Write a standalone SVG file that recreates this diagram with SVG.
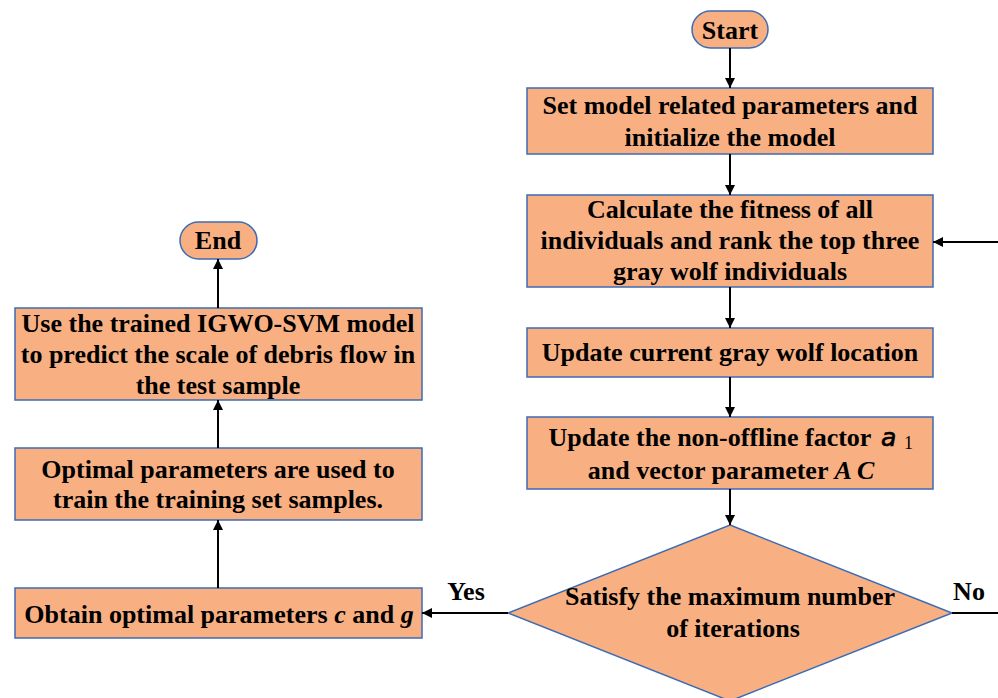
<svg xmlns="http://www.w3.org/2000/svg" width="998" height="698" viewBox="0 0 998 698">
<defs>
<marker id="ah" viewBox="0 0 10 10" refX="10" refY="5" markerWidth="10" markerHeight="10" markerUnits="userSpaceOnUse" orient="auto">
<path d="M0,0 L10,5 L0,10 z" fill="#000"/>
</marker>
</defs>
<style>
.n{fill:#F8B083;stroke:#3C6BB4;stroke-width:1.5}
.t{font-family:"Liberation Serif","Times New Roman",serif;font-weight:bold;font-size:26px;fill:#000;text-anchor:middle}
.c{stroke:#000;stroke-width:2;fill:none}
</style>
<rect width="998" height="698" fill="#fff"/>
<g id="start">
<rect class="n" x="692" y="11" width="76" height="37" rx="18.5"/>
<text class="t" x="730" y="39">Start</text>
</g>
<g id="init">
<rect class="n" x="527" y="88" width="406" height="66"/>
<text class="t" x="730" y="114">Set model related parameters and</text>
<text class="t" x="730" y="146">initialize the model</text>
</g>
<g id="fitness">
<rect class="n" x="527" y="195" width="406" height="92"/>
<text class="t" x="730" y="218">Calculate the fitness of all</text>
<text class="t" x="730" y="249">individuals and rank the top three</text>
<text class="t" x="730" y="280">gray wolf individuals</text>
</g>
<g id="update-location">
<rect class="n" x="527" y="328" width="406" height="49"/>
<text class="t" x="730" y="361">Update current gray wolf location</text>
</g>
<g id="update-factor">
<rect class="n" x="527" y="417" width="406" height="72"/>
<text class="t" x="710" y="446">Update the non-offline factor</text>
<text x="881" y="446" font-family="DejaVu Sans,sans-serif" font-style="italic" font-size="25" fill="#000" stroke="#000" stroke-width="0.7">a</text>
<text x="904" y="449" font-family="Liberation Serif,serif" font-size="18" fill="#000">1</text>
<text class="t" x="731" y="479">and vector parameter <tspan font-style="italic">A C</tspan></text>
</g>
<g id="decision">
<polygon class="n" points="730,525 952,613 730,701 508,613"/>
<text class="t" x="730" y="605">Satisfy the maximum number</text>
<text class="t" x="733" y="637">of iterations</text>
</g>
<g id="obtain">
<rect class="n" x="15" y="588" width="407" height="50"/>
<text class="t" x="219" y="623">Obtain optimal parameters <tspan font-style="italic">c</tspan> and <tspan font-style="italic">g</tspan></text>
</g>
<g id="train">
<rect class="n" x="15" y="448" width="407" height="72"/>
<text class="t" x="218" y="478">Optimal parameters are used to</text>
<text class="t" x="218" y="508">train the training set samples.</text>
</g>
<g id="predict">
<rect class="n" x="15" y="308" width="407" height="92"/>
<text class="t" x="218" y="332">Use the trained IGWO-SVM model</text>
<text class="t" x="218" y="363">to predict the scale of debris flow in</text>
<text class="t" x="218" y="394">the test sample</text>
</g>
<g id="end">
<rect class="n" x="180" y="222" width="77" height="37" rx="18.5"/>
<text class="t" x="218" y="249">End</text>
</g>
<g id="connectors">
<line class="c" x1="730" y1="48" x2="730" y2="88" marker-end="url(#ah)"/>
<line class="c" x1="730" y1="154" x2="730" y2="195" marker-end="url(#ah)"/>
<line class="c" x1="730" y1="287" x2="730" y2="328" marker-end="url(#ah)"/>
<line class="c" x1="730" y1="377" x2="730" y2="417" marker-end="url(#ah)"/>
<line class="c" x1="730" y1="489" x2="730" y2="525" marker-end="url(#ah)"/>
<line class="c" x1="952" y1="613" x2="998" y2="613"/>
<line class="c" x1="998" y1="242" x2="933" y2="242" marker-end="url(#ah)"/>
<line class="c" x1="508" y1="613" x2="422" y2="613" marker-end="url(#ah)"/>
<line class="c" x1="218" y1="588" x2="218" y2="520" marker-end="url(#ah)"/>
<line class="c" x1="218" y1="448" x2="218" y2="400" marker-end="url(#ah)"/>
<line class="c" x1="218" y1="308" x2="218" y2="259" marker-end="url(#ah)"/>
<text class="t" x="466" y="600">Yes</text>
<text class="t" x="969" y="600">No</text>
</g>
</svg>
